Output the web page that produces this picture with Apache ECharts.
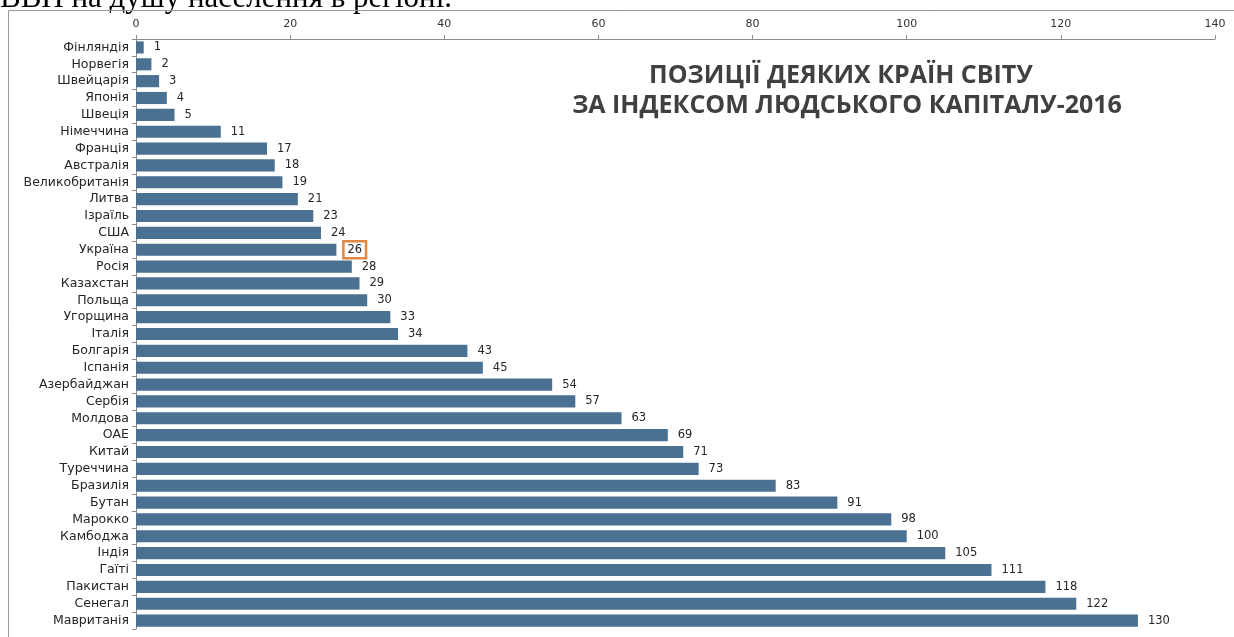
<!DOCTYPE html>
<html>
<head>
<meta charset="utf-8">
<script src="https://cdn.jsdelivr.net/npm/echarts@6/dist/echarts.min.js"></script>
<style>
html,body{margin:0;padding:0;background:#fff;}
#c{width:1234px;height:637px;}
</style>
</head>
<body>
<div id="c"></div>
<script>
const countries = ["Фінляндія","Норвегія","Швейцарія","Японія","Швеція","Німеччина","Франція","Австралія","Великобританія","Литва","Ізраїль","США","Україна","Росія","Казахстан","Польща","Угорщина","Італія","Болгарія","Іспанія","Азербайджан","Сербія","Молдова","ОАЕ","Китай","Туреччина","Бразилія","Бутан","Марокко","Камбоджа","Індія","Гаїті","Пакистан","Сенегал","Мавританія"];
const ranks = [1,2,3,4,5,11,17,18,19,21,23,24,26,28,29,30,33,34,43,45,54,57,63,69,71,73,83,91,98,100,105,111,118,122,130];
const highlighted = "Україна";
const titleLines = ["ПОЗИЦІЇ ДЕЯКИХ КРАЇН СВІТУ", "ЗА ІНДЕКСОМ ЛЮДСЬКОГО КАПІТАЛУ-2016"];
const headerText = "ВВП на душу населення в регіоні.";

const chart = echarts.init(document.getElementById('c'));
const font = 'DejaVu Sans';
const seriesData = ranks.map((v, i) => {
  const d = { value: v };
  if (countries[i] === highlighted) {
    d.label = { borderColor: '#E2873F', borderWidth: 2.5, padding: [3, 4, 2, 4], distance: 7 };
  }
  return d;
});
chart.setOption({
  animation: false,
  backgroundColor: '#fff',
  grid: { left: 136, right: 19, top: 39, bottom: 8 },
  xAxis: {
    type: 'value', position: 'top', min: 0, max: 140, interval: 20,
    axisLine: { show: true, lineStyle: { color: '#8c8c8c', width: 1 } },
    axisTick: { show: true, length: 4, lineStyle: { color: '#8c8c8c' } },
    axisLabel: { color: '#333', fontFamily: font, fontSize: 11, margin: 9 },
    splitLine: { show: false }
  },
  yAxis: {
    type: 'category', data: countries, inverse: true,
    axisLine: { show: true, lineStyle: { color: '#8c8c8c', width: 1 } },
    axisTick: { show: true, length: 4, lineStyle: { color: '#8c8c8c' } },
    axisLabel: { interval: 0, color: '#262626', fontFamily: font, fontSize: 12.5, margin: 7 }
  },
  series: [{
    type: 'bar', data: seriesData, barCategoryGap: '28%',
    itemStyle: { color: '#4A7191' },
    label: { show: true, position: 'right', distance: 10, color: '#262626', fontFamily: font, fontSize: 11.5 }
  }],
  graphic: [
    { type: 'text', x: 0, y: 14, style: { text: headerText, font: '31px "Liberation Serif"', fill: '#000', textVerticalAlign: 'bottom' } },
    { type: 'rect', shape: { x: 8.5, y: 10.5, width: 1300, height: 700 }, style: { fill: 'none', stroke: '#9a9a9a', lineWidth: 1 }, silent: true },
    { type: 'text', x: 841, y: 76, style: { text: titleLines[0], font: 'bold 25px "Open Sans"', fill: '#404040', textAlign: 'center', textVerticalAlign: 'middle' } },
    { type: 'text', x: 847, y: 106, style: { text: titleLines[1], font: 'bold 25px "Open Sans"', fill: '#404040', textAlign: 'center', textVerticalAlign: 'middle' } }
  ]
});
</script>
</body>
</html>
